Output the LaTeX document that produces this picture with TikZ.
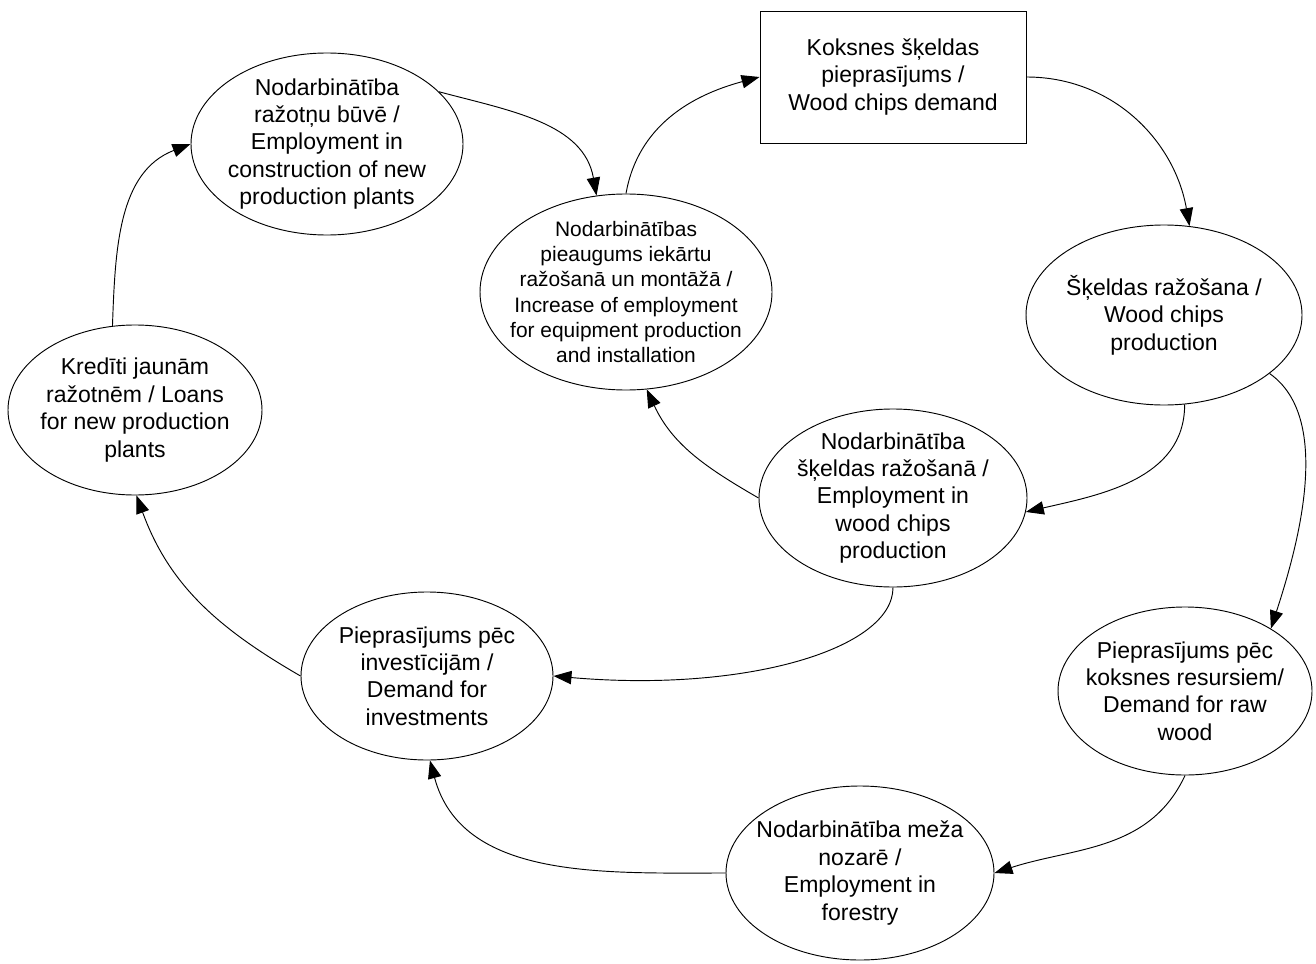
\documentclass[tikz,border=0pt]{standalone}
\usepackage{fontspec}
\setmainfont{Liberation Sans}
\usetikzlibrary{shapes.geometric,arrows.meta}

\begin{document}
\begin{tikzpicture}[x=0.75pt, y=0.75pt,
		every node/.style={font=\fontsize{17.25}{20.6}\selectfont, align=center},
		oval/.style={draw, ellipse, inner sep=-12pt, line width=0.7pt},
		flow/.style={-{Triangle[length=13.5pt,width=10pt]}, line width=0.7pt}]
	\useasboundingbox (0,0) rectangle (1316,-963);
	% nodes
	\node[draw, line width=0.7pt, minimum width=199.5pt, minimum height=99pt] (wdemand) at (893,-77) {Koksnes šķeldas\\pieprasījums /\\Wood chips demand};
	\node[oval, minimum width=204pt, minimum height=136.5pt] (constr) at (327,-144) {Nodarbinātība\\ražotņu būvē /\\Employment in\\construction of new\\production plants};
	\node[oval, minimum width=219pt, minimum height=147pt, font=\fontsize{15.7}{18.8}\selectfont] (equip) at (626,-292) {Nodarbinātības\\pieaugums iekārtu\\ražošanā un montāžā /\\Increase of employment\\for equipment production\\and installation};
	\node[oval, minimum width=207pt, minimum height=135pt] (chipsprod) at (1164,-315) {Šķeldas ražošana /\\Wood chips\\production};
	\node[oval, minimum width=190.5pt, minimum height=127.5pt] (loans) at (135,-410) {Kredīti jaunām\\ražotnēm / Loans\\for new production\\plants};
	\node[oval, minimum width=201pt, minimum height=133.5pt] (chipsjob) at (893,-498) {Nodarbinātība\\šķeldas ražošanā /\\Employment in\\wood chips\\production};
	\node[oval, minimum width=189pt, minimum height=126pt] (invest) at (427,-676) {Pieprasījums pēc\\investīcijām /\\Demand for\\investments};
	\node[oval, minimum width=190.5pt, minimum height=126pt] (rawwood) at (1185,-691) {Pieprasījums pēc\\koksnes resursiem/\\Demand for raw\\wood};
	\node[oval, minimum width=201pt, minimum height=130.5pt] (forestry) at (860,-873) {Nodarbinātība meža\\nozarē /\\Employment in\\forestry};
	% connectors
	\draw[flow] (constr.25) to[out=-15, in=100] (equip.107);
	\draw[flow] (equip.90) to[out=80, in=195] (wdemand.west);
	\draw[flow] (wdemand.east) to[out=0, in=100] (chipsprod.74);
	\draw[flow] (chipsprod.-77) to[out=-90, in=13] (chipsjob.-6);
	\draw[flow] (chipsprod.-29) to[out=-35, in=72, looseness=0.8] (rawwood.36);
	\draw[flow] (chipsjob.180) to[out=150, in=-65] (equip.-78);
	\draw[flow] (chipsjob.-90) to[out=-90, in=-5, out looseness=0.45, in looseness=1.4] (invest.0);
	\draw[flow] (rawwood.-90) to[out=-115, in=18] (forestry.0);
	\draw[flow] (forestry.180) to[out=180, in=-75] (invest.-88);
	\draw[flow] (invest.180) to[out=150, in=-70] (loans.-89);
	\draw[flow] (loans.105) to[out=88, in=201] (constr.180);
\end{tikzpicture}
\end{document}
